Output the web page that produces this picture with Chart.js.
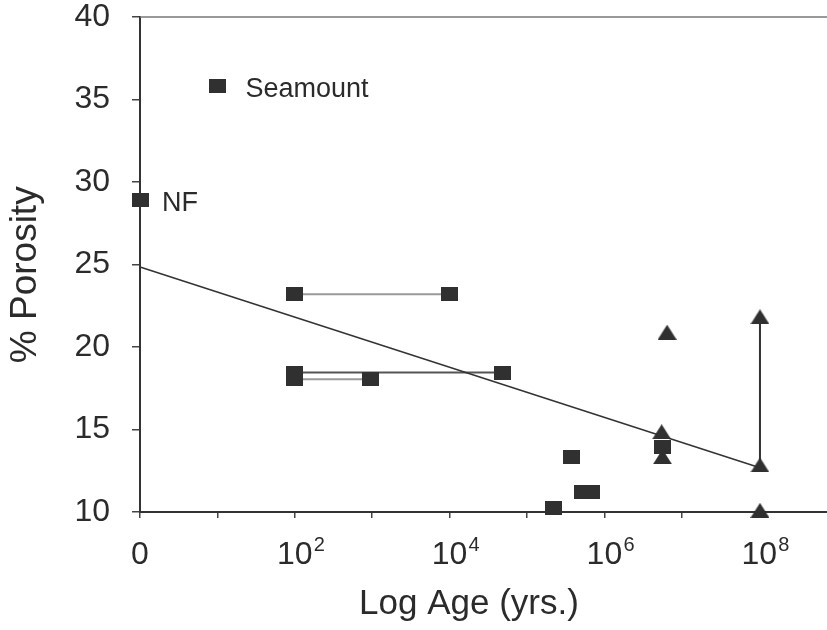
<!DOCTYPE html>
<html>
<head>
<meta charset="utf-8">
<script src="https://cdn.jsdelivr.net/npm/chart.js@4/dist/chart.umd.min.js"></script>
<style>
  html, body { margin: 0; padding: 0; background: #fff; overflow: hidden; }
  #wrap { width: 827px; height: 630px; position: relative; }
  canvas { display: block; }
</style>
</head>
<body>
<div id="wrap"><canvas id="porosity"></canvas></div>
<script>
// porosity vs. log age (x is the exponent of age in years)

var squareAge = [0, 1, 2, 4, 2, 4.68, 2, 2.98, 5.57, 5.72, 5.83, 5.34, 6.75];
var squarePorosity = [28.9, 35.8, 23.2, 23.2, 18.45, 18.45, 18.05, 18.05, 13.35, 11.2, 11.2, 10.25, 13.95];

var triangleAge = [6.81, 6.74, 6.75, 8.01, 8.01, 8.01];
var trianglePorosity = [20.9, 14.86, 13.35, 21.83, 12.85, 10.1];

// age ranges drawn as horizontal bars
var rangeAgeLow = [2, 2, 2];
var rangeAgeHigh = [4, 4.68, 2.98];
var rangePorosity = [23.2, 18.45, 18.05];

// porosity range at 10^8 yrs
var spanAge = 8.01;
var spanPorosity = [21.83, 12.85];

// regression line
var fitAge = [0, 8];
var fitPorosity = [24.85, 12.7];

var xTickValues = [0, 1, 2, 3, 4, 5, 6, 7, 8];
var labelledExponents = [2, 4, 6, 8];

var noteText = ['Seamount', 'NF'];
var noteAge = [1, 0];
var notePorosity = [35.8, 28.9];

var FONT = '"Liberation Sans", Arial, Helvetica, sans-serif';
var INK = '#2b2b2b';

function pts(xs, ys) {
    return xs.map(function (x, i) { return { x: x, y: ys[i] }; });
}

function squareMark() {
    var c = document.createElement('canvas');
    c.width = 17; c.height = 14;
    var g = c.getContext('2d');
    g.fillStyle = '#303030';
    g.fillRect(0, 0, 17, 14);
    return c;
}

function triangleMark() {
    var c = document.createElement('canvas');
    c.width = 19; c.height = 15;
    var g = c.getContext('2d');
    g.fillStyle = '#303030';
    g.beginPath();
    g.moveTo(0, 15); g.lineTo(9.5, 0); g.lineTo(19, 15);
    g.closePath();
    g.fill();
    return c;
}

function lineSet(data, color, width) {
    return {
        type: 'line', data: data, borderColor: color, borderWidth: width,
        pointRadius: 0, showLine: true, fill: false, order: 2, clip: false
    };
}

var datasets = [
    {
        type: 'scatter', label: 'squares', data: pts(squareAge, squarePorosity),
        pointStyle: squareMark(), pointRadius: 9, order: 0, clip: false
    },
    {
        type: 'scatter', label: 'triangles', data: pts(triangleAge, trianglePorosity),
        pointStyle: triangleMark(), pointRadius: 10, order: 0, clip: false
    },
    lineSet(pts(fitAge, fitPorosity), '#333', 1.5),
    lineSet(pts([spanAge, spanAge], spanPorosity), '#333', 2)
];
var rangeColors = ['#9a9a9a', '#555', '#9a9a9a'];
rangePorosity.forEach(function (p, i) {
    datasets.push(lineSet(pts([rangeAgeLow[i], rangeAgeHigh[i]], [p, p]), rangeColors[i], 2));
});

var extras = {
    id: 'extras',
    afterDraw: function (chart) {
        var ctx = chart.ctx, a = chart.chartArea;
        var xs = chart.scales.x, ys = chart.scales.y;
        ctx.save();
        // top frame line
        ctx.strokeStyle = '#777';
        ctx.lineWidth = 1.5;
        ctx.beginPath();
        ctx.moveTo(a.left, a.top);
        ctx.lineTo(a.right, a.top);
        ctx.stroke();

        // exponents of the 10^n tick labels
        ctx.fillStyle = INK;
        ctx.font = '20px ' + FONT;
        ctx.textAlign = 'left';
        ctx.textBaseline = 'alphabetic';
        labelledExponents.forEach(function (e) {
            ctx.fillText(String(e), xs.getPixelForValue(e) + 19, 551);
        });

        // point notes
        ctx.font = '27px ' + FONT;
        ctx.textBaseline = 'middle';
        noteText.forEach(function (t, i) {
            var px = xs.getPixelForValue(noteAge[i]);
            var py = ys.getPixelForValue(notePorosity[i]);
            ctx.fillText(t, px + (i === 0 ? 28 : 22), py + 3);
        });
        ctx.restore();
    }
};

var ctx = document.getElementById('porosity').getContext('2d');
var porosityChart = new Chart(ctx, {
    data: { datasets: datasets },
    options: {
        responsive: true,
        maintainAspectRatio: false,
        animation: false,
        layout: { autoPadding: false, padding: { top: 17, right: 0, bottom: 0, left: 0 } },
        plugins: {
            legend: { display: false },
            tooltip: { enabled: false }
        },
        scales: {
            x: {
                type: 'linear',
                min: 0,
                max: 8.876,
                afterBuildTicks: function (scale) {
                    scale.ticks = xTickValues.map(function (v) { return { value: v }; });
                },
                afterFit: function (scale) {
                    scale.height = 118;
                    scale.paddingLeft = 0;
                    scale.paddingRight = 0;
                },
                grid: { drawOnChartArea: false, drawTicks: true, tickLength: 6, color: '#444', lineWidth: 1.5 },
                border: { display: true, color: '#333', width: 2 },
                ticks: {
                    autoSkip: false,
                    maxRotation: 0,
                    padding: 18,
                    color: INK,
                    font: { family: FONT, size: 32, lineHeight: 1.2 },
                    callback: function (v) {
                        if (v === 0) return '0';
                        return v % 2 === 0 ? '10' : '';
                    }
                },
                title: {
                    display: true,
                    text: 'Log Age (yrs.)   ',
                    color: INK,
                    font: { family: FONT, size: 35 },
                    padding: { top: 0, bottom: 5 }
                }
            },
            y: {
                type: 'linear',
                min: 10,
                max: 40,
                afterFit: function (scale) {
                    scale.width = 140;
                    scale.paddingTop = 0;
                    scale.paddingBottom = 0;
                },
                grid: { drawOnChartArea: false, drawTicks: true, tickLength: 8, color: '#444', lineWidth: 1.5 },
                border: { display: true, color: '#333', width: 2 },
                ticks: {
                    stepSize: 5,
                    padding: 22,
                    color: INK,
                    font: { family: FONT, size: 32, lineHeight: 1 }
                },
                title: {
                    display: true,
                    text: '% Porosity  ',
                    color: INK,
                    font: { family: FONT, size: 37 },
                    padding: { top: 4, bottom: 0 }
                }
            }
        }
    },
    plugins: [extras]
});
</script>
</body>
</html>
